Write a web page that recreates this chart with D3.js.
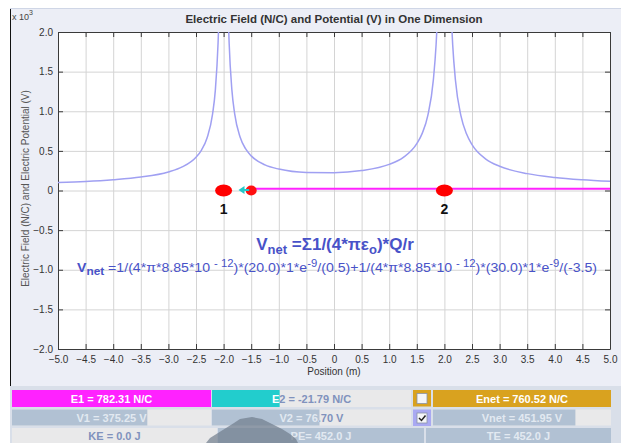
<!DOCTYPE html>
<html>
<head>
<meta charset="utf-8">
<script src="https://cdn.jsdelivr.net/npm/d3@7"></script>
<style>
	body { margin: 0; background: #ffffff; }
	svg { display: block; font-family: "Liberation Sans", Arial, sans-serif; }
</style>
</head>
<body>
<script>
// potential (x 10^3 V), in three branches split by the charges
const branch_left_x = [-5.0, -4.5, -4.0, -3.5, -3.0, -2.75, -2.5, -2.4, -2.3, -2.2, -2.15, -2.1, -2.09];
const branch_left_v = [0.100, 0.113, 0.135, 0.169, 0.234, 0.297, 0.420, 0.511, 0.662, 0.963, 1.264, 1.864, 2.06];

const branch_mid_x = [-1.91, -1.9, -1.85, -1.8, -1.7, -1.6, -1.5, -1.25, -1.0, -0.5, 0.0, 0.5, 1.0, 1.25, 1.5, 1.6, 1.7, 1.8, 1.85, 1.87];
const branch_mid_v = [2.07, 1.867, 1.269, 0.970, 0.672, 0.524, 0.437, 0.323, 0.270, 0.228, 0.225, 0.252, 0.330, 0.415, 0.591, 0.724, 0.948, 1.396, 1.845, 2.12];

const branch_right_x = [2.13, 2.15, 2.2, 2.3, 2.4, 2.5, 2.75, 3.0, 3.5, 4.0, 4.5, 5.0];
const branch_right_v = [2.12, 1.841, 1.391, 0.941, 0.715, 0.579, 0.397, 0.306, 0.213, 0.165, 0.136, 0.116];

const x_ticks = [-5.0, -4.5, -4.0, -3.5, -3.0, -2.5, -2.0, -1.5, -1.0, -0.5, 0, 0.5, 1.0, 1.5, 2.0, 2.5, 3.0, 3.5, 4.0, 4.5, 5.0];
const y_ticks = [-2.0, -1.5, -1.0, -0.5, 0, 0.5, 1.0, 1.5, 2.0];

const charge_x = [-2.0, 2.0];
const charge_labels = ["1", "2"];
const test_charge_x = -1.5;
const arrow_tip_x = -1.73;
const field_line_v = 0.022;

const readout_labels = [
	"E1 = 782.31 N/C", "E2 = -21.79 N/C", "Enet = 760.52 N/C",
	"V1 = 375.25 V", "V2 = 76.70 V", "Vnet = 451.95 V",
	"KE = 0.0 J", "PE= 452.0 J", "TE = 452.0 J"
];
const readout_fill = [1.0, 0.34, 1.0, 0.68, 0.54, 0.80, 0.0, 1.0, 1.0];

const W = 621, H = 443;
const plot = { left: 58, right: 610, top: 32, bottom: 349 };
const blue = "#4852c8";

const svg = d3.select("body").append("svg")
	.attr("width", W)
	.attr("height", H);

// window background
svg.append("rect").attr("x", 10).attr("y", 8).attr("width", W - 10).attr("height", H - 8).attr("fill", "#eceef6");
svg.append("line").attr("x1", 10.5).attr("x2", 10.5).attr("y1", 8).attr("y2", 386).attr("stroke", "#111");
svg.append("line").attr("x1", 10).attr("x2", W).attr("y1", 8.5).attr("y2", 8.5).attr("stroke", "#cfd6e6");

const x = d3.scaleLinear([-5, 5], [plot.left, plot.right]);
const y = d3.scaleLinear([-2, 2], [plot.bottom, plot.top]);

const pw = plot.right - plot.left, ph = plot.bottom - plot.top;

svg.append("rect")
	.attr("x", plot.left).attr("y", plot.top)
	.attr("width", pw).attr("height", ph)
	.attr("fill", "#ffffff");

// grid
const fmt = d => d === 0 ? "0" : d3.format(".1f")(d);

svg.append("g")
	.attr("transform", `translate(0,${plot.bottom})`)
	.call(d3.axisBottom(x).tickValues(x_ticks).tickSize(-ph).tickFormat(""))
	.call(g => g.select(".domain").remove())
	.call(g => g.selectAll("line").attr("stroke", "#d4d4d4"));

svg.append("g")
	.attr("transform", `translate(${plot.left},0)`)
	.call(d3.axisLeft(y).tickValues(y_ticks).tickSize(-pw).tickFormat(""))
	.call(g => g.select(".domain").remove())
	.call(g => g.selectAll("line").attr("stroke", "#d4d4d4"));

// inward ticks on all four sides
const tick_axes = [
	[d3.axisBottom(x).tickValues(x_ticks), `translate(0,${plot.bottom})`],
	[d3.axisTop(x).tickValues(x_ticks), `translate(0,${plot.top})`],
	[d3.axisLeft(y).tickValues(y_ticks), `translate(${plot.left},0)`],
	[d3.axisRight(y).tickValues(y_ticks), `translate(${plot.right},0)`]
];

for (let [ax, tr] of tick_axes) {
	svg.append("g")
		.attr("transform", tr)
		.call(ax.tickSize(-5).tickSizeOuter(0).tickFormat(""))
		.call(g => g.select(".domain").attr("stroke", "#3a3a3a"))
		.call(g => g.selectAll("line").attr("stroke", "#3a3a3a"));
}

// tick labels
svg.append("g")
	.attr("transform", `translate(0,${plot.bottom})`)
	.call(d3.axisBottom(x).tickValues(x_ticks).tickSize(0).tickPadding(7).tickFormat(fmt))
	.call(g => g.select(".domain").remove())
	.call(g => g.selectAll("text").attr("font-size", 10).attr("fill", "#333").attr("font-family", "Liberation Sans, Arial, sans-serif"));

svg.append("g")
	.attr("transform", `translate(${plot.left},0)`)
	.call(d3.axisLeft(y).tickValues(y_ticks).tickSize(0).tickPadding(5).tickFormat(fmt))
	.call(g => g.select(".domain").remove())
	.call(g => g.selectAll("text").attr("font-size", 10).attr("fill", "#333").attr("font-family", "Liberation Sans, Arial, sans-serif"));

// titles
svg.append("text")
	.attr("x", 334).attr("y", 23)
	.attr("text-anchor", "middle")
	.attr("font-size", 11.5).attr("font-weight", "bold").attr("fill", "#333")
	.text("Electric Field (N/C) and Potential (V) in One Dimension");

const mult = svg.append("text").attr("x", 12).attr("y", 20).attr("font-size", 9).attr("fill", "#444");
mult.append("tspan").text("x 10");
mult.append("tspan").attr("dy", -5).attr("font-size", 7).text("3");

svg.append("text")
	.attr("transform", `translate(29,${(plot.top + plot.bottom) / 2 - 2}) rotate(-90)`)
	.attr("text-anchor", "middle")
	.attr("font-size", 10).attr("fill", "#555")
	.text("Electric Field (N/C) and Electric Potential (V)");

svg.append("text")
	.attr("x", 334).attr("y", 375)
	.attr("text-anchor", "middle")
	.attr("font-size", 10).attr("fill", "#333")
	.text("Position (m)");

// potential curve
svg.append("clipPath").attr("id", "plot-clip")
	.append("rect").attr("x", plot.left).attr("y", plot.top).attr("width", pw).attr("height", ph);

const line = d3.line().x(d => x(d[0])).y(d => y(d[1])).curve(d3.curveMonotoneX);
const branches = [
	d3.zip(branch_left_x, branch_left_v),
	d3.zip(branch_mid_x, branch_mid_v),
	d3.zip(branch_right_x, branch_right_v)
];

svg.append("g")
	.attr("clip-path", "url(#plot-clip)")
	.selectAll("path")
	.data(branches)
	.enter().append("path")
	.attr("d", line)
	.attr("fill", "none")
	.attr("stroke", "#a0a0f2")
	.attr("stroke-width", 1.5);

// field line from the test charge
svg.append("line")
	.attr("x1", x(test_charge_x)).attr("x2", x(5))
	.attr("y1", y(field_line_v)).attr("y2", y(field_line_v))
	.attr("stroke", "#ff22ff").attr("stroke-width", 2);

// charges
const cg = svg.append("g")
	.selectAll("g")
	.data(d3.zip(charge_x, charge_labels))
	.enter().append("g");

cg.append("ellipse")
	.attr("cx", d => x(d[0])).attr("cy", y(0))
	.attr("rx", 8.5).attr("ry", 6)
	.attr("fill", "#ff0000");

cg.append("text")
	.attr("x", d => x(d[0])).attr("y", y(0) + 23)
	.attr("text-anchor", "middle")
	.attr("font-size", 14).attr("font-weight", "bold").attr("fill", "#111")
	.text(d => d[1]);

// test charge and its force arrow
svg.append("ellipse")
	.attr("cx", x(test_charge_x)).attr("cy", y(0))
	.attr("rx", 5.5).attr("ry", 5)
	.attr("fill", "#ff1010");

svg.append("line")
	.attr("x1", x(test_charge_x) - 2).attr("x2", x(arrow_tip_x) + 4)
	.attr("y1", y(0) - 0.5).attr("y2", y(0) - 0.5)
	.attr("stroke", "#22c8c8").attr("stroke-width", 2);

svg.append("path")
	.attr("d", `M${x(arrow_tip_x)},${y(0) - 0.5} l6,-4 l0,8 z`)
	.attr("fill", "#22c8c8");

// formulas
const f1 = svg.append("text")
	.attr("x", 335).attr("y", 250)
	.attr("text-anchor", "middle")
	.attr("font-size", 17).attr("font-weight", "bold").attr("fill", blue);
f1.append("tspan").text("V");
f1.append("tspan").attr("dy", 4).attr("font-size", 13).text("net");
f1.append("tspan").attr("dy", -4).text(" =Σ1/(4*πε");
f1.append("tspan").attr("dy", 4).attr("font-size", 13).text("o");
f1.append("tspan").attr("dy", -4).text(")*Q/r");

const f2 = svg.append("text")
	.attr("x", 77).attr("y", 272)
	.attr("font-size", 12.5).attr("fill", blue)
	.attr("textLength", 520).attr("lengthAdjust", "spacingAndGlyphs");
const f2_parts = [
	["V", 0, 12.5, "bold"], ["net", 3, 10.5, "bold"], [" =1/(4*π*8.85*10 ", -3, 12.5, "normal"],
	["- 12", -5, 10, "normal"], [")*(20.0)*1*e", 5, 12.5, "normal"], ["-9", -5, 10, "normal"],
	["/(0.5)+1/(4*π*8.85*10 ", 5, 12.5, "normal"], ["- 12", -5, 10, "normal"],
	[")*(30.0)*1*e", 5, 12.5, "normal"], ["-9", -5, 10, "normal"], ["/(-3.5)", 5, 12.5, "normal"]
];
for (let [t, dy, fs, fw] of f2_parts)
	f2.append("tspan").attr("dy", dy).attr("font-size", fs).attr("font-weight", fw).text(t);

// readout panel
svg.append("rect").attr("x", 10).attr("y", 386).attr("width", W - 10).attr("height", H - 386).attr("fill", "#d9dfe9");

const rows = [
	{ y: 390, h: 17, cells: [[12, 211], [212, 411], [433, 611]], fills: ["#ff22ff", "#22cdcd", "#d9a21f"], ink: "#ffffff" },
	{ y: 409.5, h: 16, cells: [[12, 211], [212, 411], [433, 611]], fills: ["#b1c1d3", "#b1c1d3", "#b1c1d3"], ink: "#e2e9f1" },
	{ y: 428, h: 15, cells: [[12, 217], [218, 424], [426, 611]], fills: ["#b1c1d3", "#b1c1d3", "#b1c1d3"], ink: "#e2e9f1" }
];

const defs = svg.append("defs");

rows.forEach((row, ri) => {
	row.cells.forEach((c, ci) => {
		const i = ri * 3 + ci;
		const w = c[1] - c[0];
		const fw = w * readout_fill[i];
		const g = svg.append("g");

		g.append("rect").attr("x", c[0]).attr("y", row.y).attr("width", w).attr("height", row.h).attr("fill", "#e9e9ea");
		g.append("rect").attr("x", c[0]).attr("y", row.y).attr("width", fw).attr("height", row.h).attr("fill", row.fills[ci]);

		defs.append("clipPath").attr("id", `fill-${i}`)
			.append("rect").attr("x", c[0]).attr("y", row.y).attr("width", fw).attr("height", row.h);
		defs.append("clipPath").attr("id", `rest-${i}`)
			.append("rect").attr("x", c[0] + fw).attr("y", row.y).attr("width", w - fw).attr("height", row.h);

		for (let [clip, ink] of [[`fill-${i}`, row.ink], [`rest-${i}`, "#8092bd"]]) {
			g.append("text")
				.attr("clip-path", `url(#${clip})`)
				.attr("x", (c[0] + c[1]) / 2).attr("y", row.y + row.h / 2 + 4)
				.attr("text-anchor", "middle")
				.attr("font-size", 11).attr("font-weight", "bold").attr("fill", ink)
				.text(readout_labels[i]);
		}
	});
});

// checkboxes
const boxes = [[390, "#d9a21f", false], [409.5, "#a9a9f2", true]];
for (let [by, bg, checked] of boxes) {
	svg.append("rect").attr("x", 413).attr("y", by).attr("width", 18).attr("height", 16.5).attr("fill", bg);
	svg.append("rect").attr("x", 417).attr("y", by + 3.5).attr("width", 10).attr("height", 10)
		.attr("fill", "#f4f5f8").attr("stroke", "#8a93a8").attr("stroke-width", 0.8);
	if (checked)
		svg.append("path").attr("d", `M419,${by + 8.5} l2.5,2.5 l4,-5`)
			.attr("fill", "none").attr("stroke", "#222").attr("stroke-width", 1.5);
}

// grey smudge over the PE readout
svg.append("path")
	.attr("d", "M206,443 L210,438 L218,433 L226,428 L234,423 L240,419 L252,417 L262,419 L272,424 L282,429 L290,434 L296,439 L298,443 Z")
	.attr("fill", "#6f7c8b").attr("opacity", 0.7);
</script>
</body>
</html>
